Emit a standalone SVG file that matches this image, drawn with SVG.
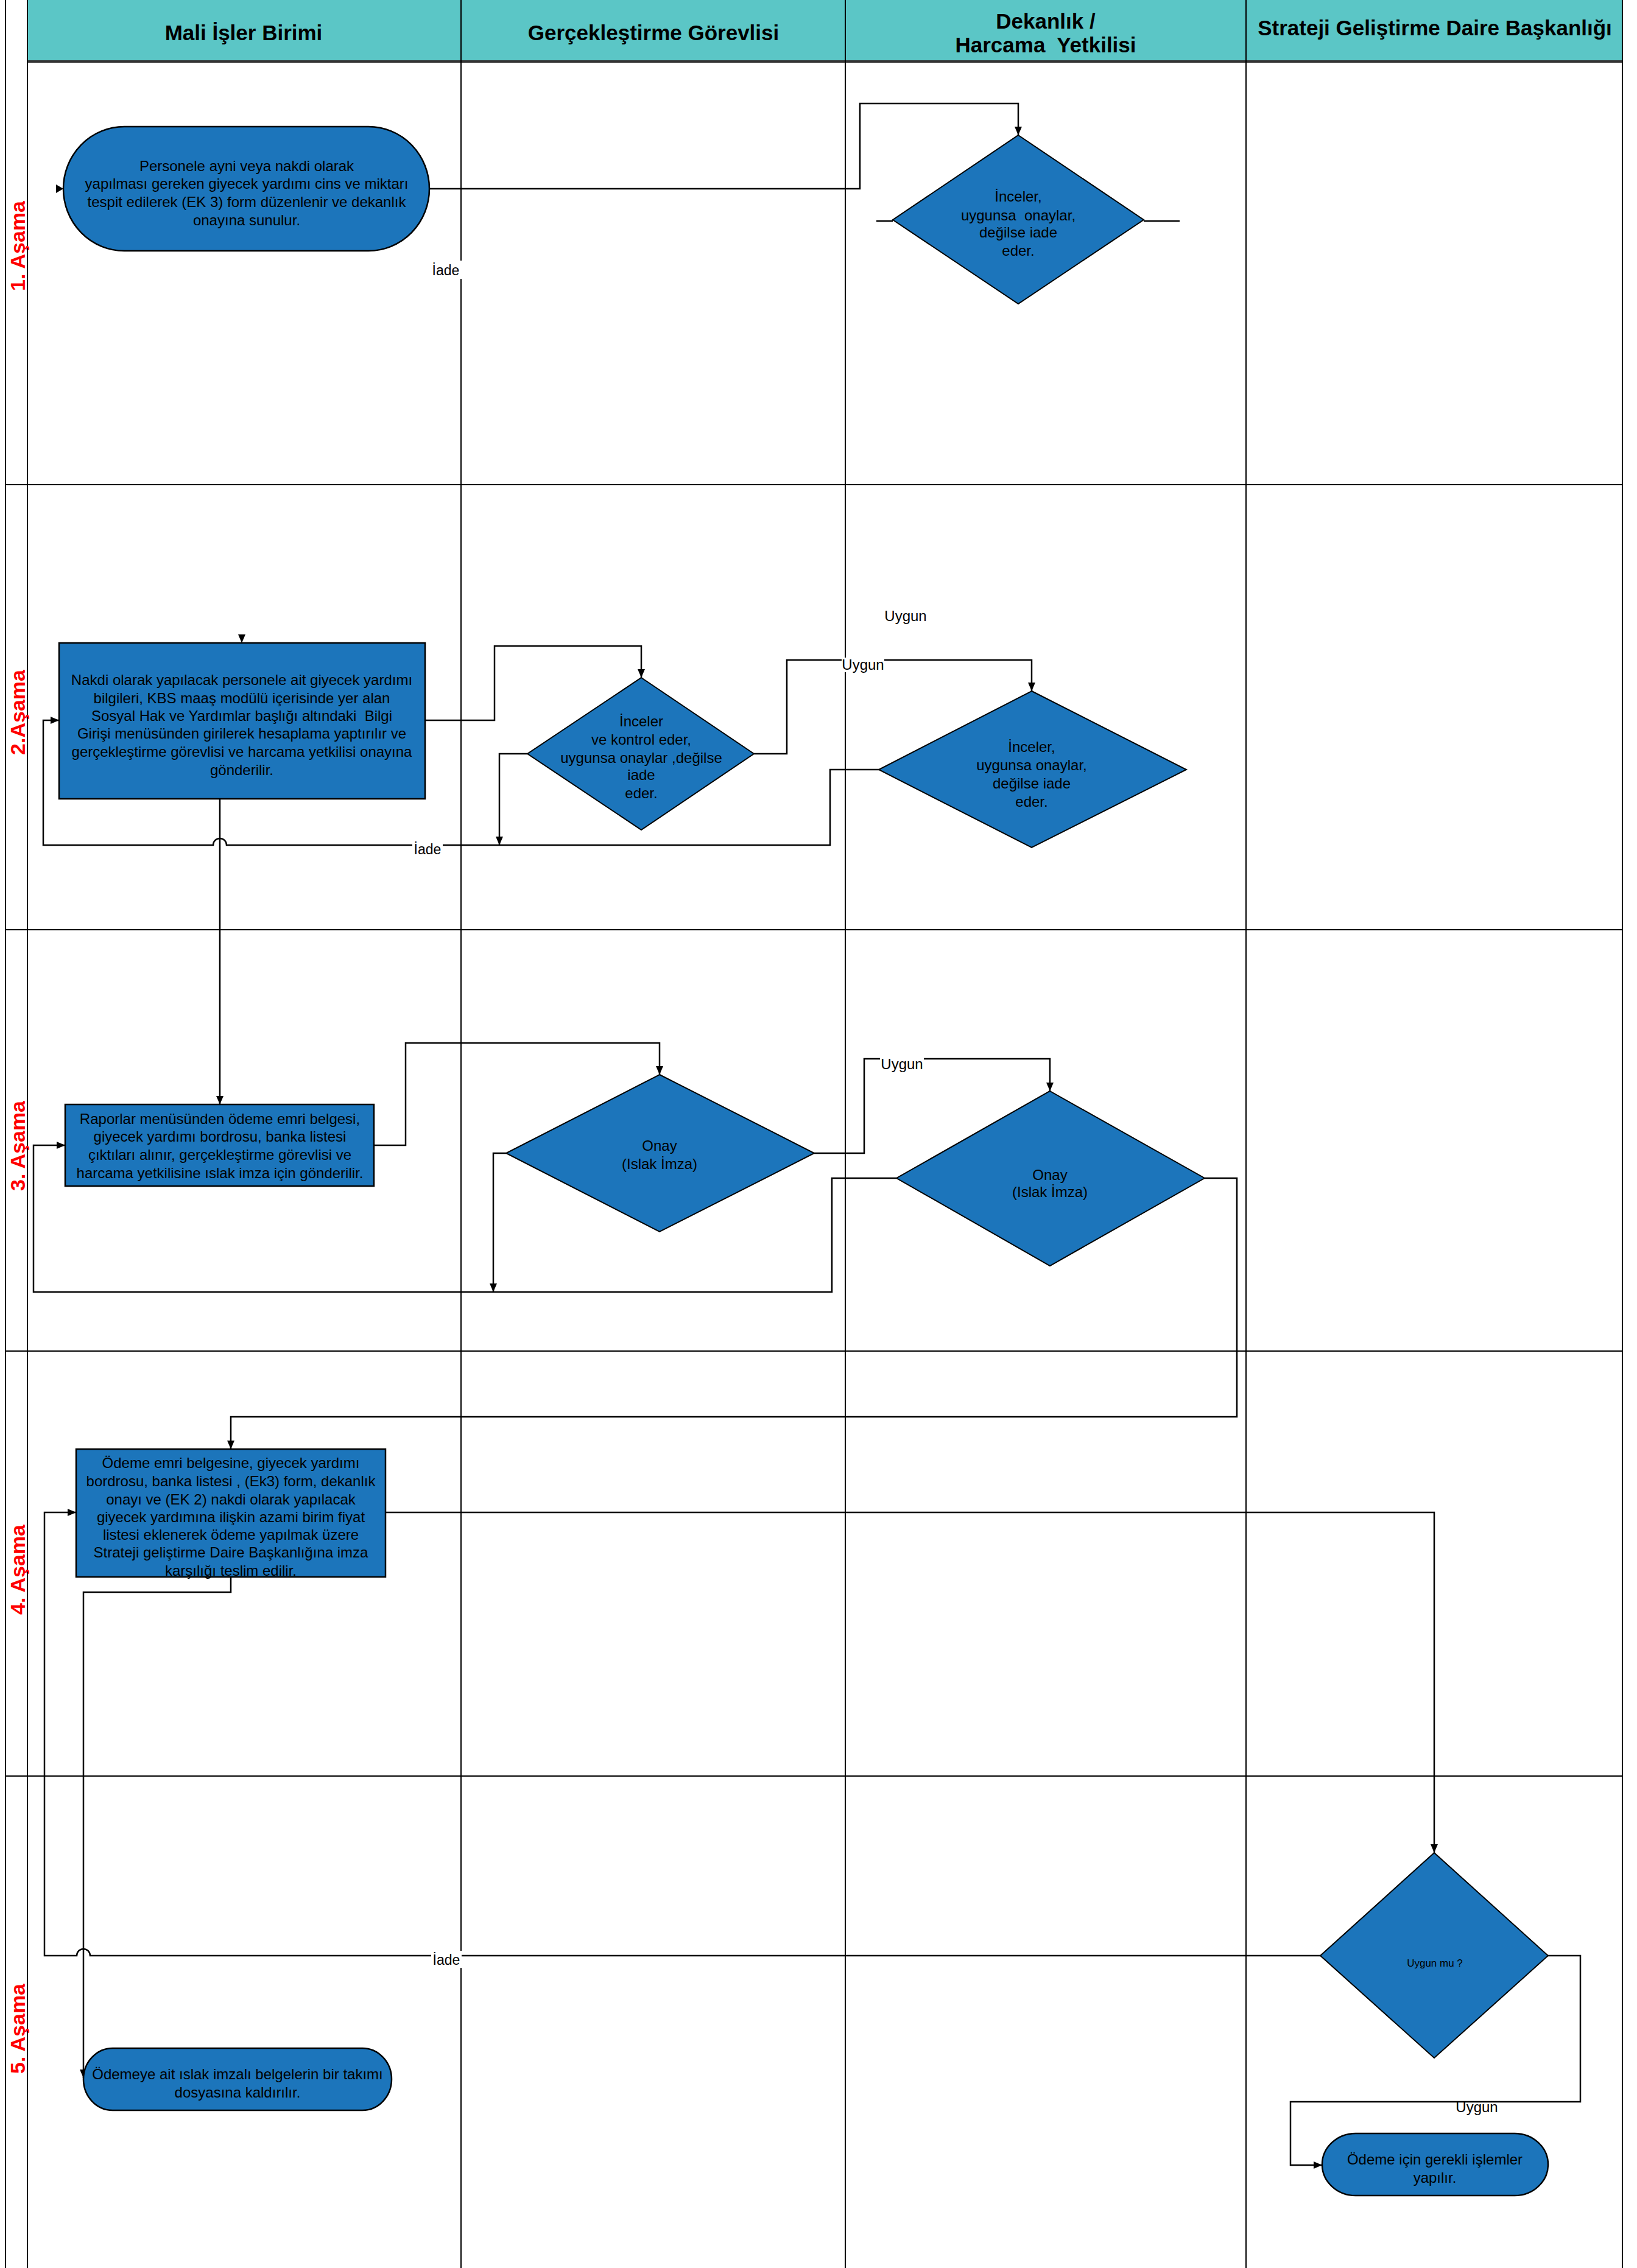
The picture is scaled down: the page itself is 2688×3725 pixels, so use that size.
<svg xmlns="http://www.w3.org/2000/svg" width="2688" height="3725" viewBox="0 0 2688 3725">
<style>
text{font-family:"Liberation Sans",Arial,sans-serif;fill:#000}
.hd{font-size:35px;font-weight:bold;text-anchor:middle}
.st{font-size:34px;font-weight:bold;fill:#ff0000;text-anchor:middle}
.nt{font-size:24px;text-anchor:middle;white-space:pre}
.lb{font-size:23px;text-anchor:middle}
.grid{stroke:#000;stroke-width:2;fill:none}
.node{fill:#1c75bb;stroke:#000;stroke-width:2.5}
.cn{fill:none;stroke:#000;stroke-width:2.5}
.bg{fill:#fff}
</style>
<defs>
<marker id="ar" markerUnits="userSpaceOnUse" markerWidth="14" markerHeight="12" refX="14" refY="6" orient="auto">
<path d="M0,0 L14,6 L0,12 z" fill="#000"/>
</marker>
</defs>
<rect x="0" y="0" width="2688" height="3725" fill="#fff"/>
<g id="header">
<rect x="45" y="0" width="2619" height="101" fill="#5bc6c6"/>
<line x1="45" y1="101" x2="2664" y2="101" stroke="#333" stroke-width="4"/>
<text class="hd" x="400" y="66">Mali İşler  Birimi</text>
<text class="hd" x="1073" y="66">Gerçekleştirme Görevlisi</text>
<text class="hd" x="1717" y="47">Dekanlık /</text>
<text class="hd" x="1717" y="86" style="white-space:pre">Harcama  Yetkilisi</text>
<text class="hd" x="2356" y="58">Strateji Geliştirme Daire Başkanlığı</text>
</g>
<g id="grid">
<path class="grid" d="M9,0 V3725 M45,0 V3725 M757,0 V3725 M1388,0 V3725 M2046,0 V3725 M2664,0 V3725"/>
<path class="grid" d="M9,796 H2664 M9,1527 H2664 M9,2219 H2664 M9,2917 H2664"/>
</g>
<g id="stages">
<text class="st" transform="translate(41,404) rotate(-90)">1. Aşama</text>
<text class="st" transform="translate(41,1170) rotate(-90)">2.Aşama</text>
<text class="st" transform="translate(41,1882) rotate(-90)">3. Aşama</text>
<text class="st" transform="translate(41,2578) rotate(-90)">4. Aşama</text>
<text class="st" transform="translate(41,3332) rotate(-90)">5. Aşama</text>
</g>
<g id="connectors">
<path class="cn" d="M705,310 H1412 V170 H1672 V222" marker-end="url(#ar)"/>
<path class="cn" d="M1439,363 H1466 M1878,363 H1937"/>
<polygon points="92,303 104,310 92,317" fill="#000"/>
<polygon points="391,1042 397,1056 403,1042" fill="#000"/>
<path class="cn" d="M698,1183 H812 V1061 H1053 V1113" marker-end="url(#ar)"/>
<path class="cn" d="M1238,1238 H1292 V1084 H1694 V1135" marker-end="url(#ar)"/>
<path class="cn" d="M866,1238 H820 V1388" marker-end="url(#ar)"/>
<path class="cn" d="M1443,1264 H1363 V1388 H372 A11,11 0 0 0 350,1388 H71 V1183 H97" marker-end="url(#ar)"/>
<path class="cn" d="M361,1312 V1814" marker-end="url(#ar)"/>
<path class="cn" d="M614,1881 H666 V1713 H1083 V1765" marker-end="url(#ar)"/>
<path class="cn" d="M1337,1894 H1419 V1739 H1724 V1792" marker-end="url(#ar)"/>
<path class="cn" d="M831,1894 H810 V2122" marker-end="url(#ar)"/>
<path class="cn" d="M1472,1935 H1366 V2122 H55 V1881 H107" marker-end="url(#ar)"/>
<path class="cn" d="M1978,1935 H2031 V2327 H379 V2380" marker-end="url(#ar)"/>
<path class="cn" d="M633,2484 H2355 V3043" marker-end="url(#ar)"/>
<path class="cn" d="M2168,3212 H148 A11,11 0 0 0 126,3212 H73 V2484 H125" marker-end="url(#ar)"/>
<path class="cn" d="M379,2590 V2615 H137 V3413" marker-end="url(#ar)"/>
<path class="cn" d="M2542,3212 H2595 V3452 H2119 V3556 H2171" marker-end="url(#ar)"/>
<rect class="bg" x="708" y="428" width="50" height="30"/>
<text class="lb" x="732" y="452">İade</text>
<rect class="bg" x="677" y="1380" width="50" height="28"/>
<text class="lb" x="702" y="1403">İade</text>
<rect class="bg" x="708" y="3204" width="50" height="28"/>
<text class="lb" x="733" y="3227">İade</text>
<text class="lb" x="1487" y="1020" style="font-size:24px">Uygun</text>
<rect class="bg" x="1382" y="1080" width="70" height="24"/>
<text class="lb" x="1417" y="1100" style="font-size:24px">Uygun</text>
<rect class="bg" x="1445" y="1735" width="72" height="26"/>
<text class="lb" x="1481" y="1756" style="font-size:24px">Uygun</text>
<text class="lb" x="2425" y="3469" style="font-size:24px">Uygun</text>
</g>
<g id="n1">
<rect class="node" x="104" y="208" width="601" height="204" rx="100" ry="102"/>
<text class="nt" x="405" y="281">Personele ayni veya nakdi olarak</text>
<text class="nt" x="405" y="310">yapılması gereken giyecek yardımı cins ve miktarı</text>
<text class="nt" x="405" y="340">tespit edilerek (EK 3) form düzenlenir ve dekanlık</text>
<text class="nt" x="405" y="370">onayına sunulur.</text>
</g>
<g id="d1">
<polygon class="node" points="1672,222 1878,361 1672,499 1466,361" style="stroke-width:2"/>
<text class="nt" x="1672" y="331">İnceler,</text>
<text class="nt" x="1672" y="362">uygunsa  onaylar,</text>
<text class="nt" x="1672" y="390">değilse iade</text>
<text class="nt" x="1672" y="420">eder.</text>
</g>
<g id="n2">
<rect class="node" x="97" y="1056" width="601" height="256"/>
<text class="nt" x="397" y="1125">Nakdi olarak yapılacak personele ait giyecek yardımı</text>
<text class="nt" x="397" y="1155">bilgileri, KBS maaş modülü içerisinde yer alan</text>
<text class="nt" x="397" y="1184">Sosyal Hak ve Yardımlar başlığı altındaki  Bilgi</text>
<text class="nt" x="397" y="1213">Girişi menüsünden girilerek hesaplama yaptırılır ve</text>
<text class="nt" x="397" y="1243">gerçekleştirme görevlisi ve harcama yetkilisi onayına</text>
<text class="nt" x="397" y="1273">gönderilir.</text>
</g>
<g id="d2">
<polygon class="node" points="1053,1113 1238,1238 1053,1363 866,1238" style="stroke-width:2"/>
<text class="nt" x="1053" y="1193">İnceler</text>
<text class="nt" x="1053" y="1223">ve kontrol eder,</text>
<text class="nt" x="1053" y="1253">uygunsa onaylar ,değilse</text>
<text class="nt" x="1053" y="1281">iade</text>
<text class="nt" x="1053" y="1311">eder.</text>
</g>
<g id="d3">
<polygon class="node" points="1694,1135 1948,1264 1694,1392 1443,1264" style="stroke-width:2"/>
<text class="nt" x="1694" y="1235">İnceler,</text>
<text class="nt" x="1694" y="1265">uygunsa onaylar,</text>
<text class="nt" x="1694" y="1295">değilse iade</text>
<text class="nt" x="1694" y="1325">eder.</text>
</g>
<g id="n3">
<rect class="node" x="107" y="1814" width="507" height="134"/>
<text class="nt" x="361" y="1846">Raporlar menüsünden ödeme emri belgesi,</text>
<text class="nt" x="361" y="1875">giyecek yardımı bordrosu, banka listesi</text>
<text class="nt" x="361" y="1905">çıktıları alınır, gerçekleştirme görevlisi ve</text>
<text class="nt" x="361" y="1935">harcama yetkilisine ıslak imza için gönderilir.</text>
</g>
<g id="d4">
<polygon class="node" points="1083,1765 1337,1894 1083,2023 831,1894" style="stroke-width:2"/>
<text class="nt" x="1083" y="1890">Onay</text>
<text class="nt" x="1083" y="1920">(Islak İmza)</text>
</g>
<g id="d5">
<polygon class="node" points="1724,1792 1978,1935 1724,2079 1472,1935" style="stroke-width:2"/>
<text class="nt" x="1724" y="1938">Onay</text>
<text class="nt" x="1724" y="1966">(Islak İmza)</text>
</g>
<g id="n4">
<rect class="node" x="125" y="2380" width="508" height="210"/>
<text class="nt" x="379" y="2411">Ödeme emri belgesine, giyecek yardımı</text>
<text class="nt" x="379" y="2441">bordrosu, banka listesi , (Ek3) form, dekanlık</text>
<text class="nt" x="379" y="2471">onayı ve (EK 2) nakdi olarak yapılacak</text>
<text class="nt" x="379" y="2500">giyecek yardımına ilişkin azami birim fiyat</text>
<text class="nt" x="379" y="2529">listesi eklenerek ödeme yapılmak üzere</text>
<text class="nt" x="379" y="2558">Strateji geliştirme Daire Başkanlığına imza</text>
<text class="nt" x="379" y="2588">karşılığı teslim edilir.</text>
</g>
<g id="d6">
<polygon class="node" points="2355,3043 2542,3212 2355,3380 2168,3212" style="stroke-width:2"/>
<text class="nt" x="2356" y="3230" style="font-size:17px">Uygun mu ?</text>
</g>
<g id="n5">
<rect class="node" x="137" y="3364" width="506" height="102" rx="48" ry="51"/>
<text class="nt" x="390" y="3415">Ödemeye ait ıslak imzalı belgelerin bir takımı</text>
<text class="nt" x="390" y="3445">dosyasına kaldırılır.</text>
</g>
<g id="n6">
<rect class="node" x="2171" y="3504" width="371" height="102" rx="55" ry="51"/>
<text class="nt" x="2356" y="3555">Ödeme için gerekli işlemler</text>
<text class="nt" x="2356" y="3585">yapılır.</text>
</g>
</svg>
